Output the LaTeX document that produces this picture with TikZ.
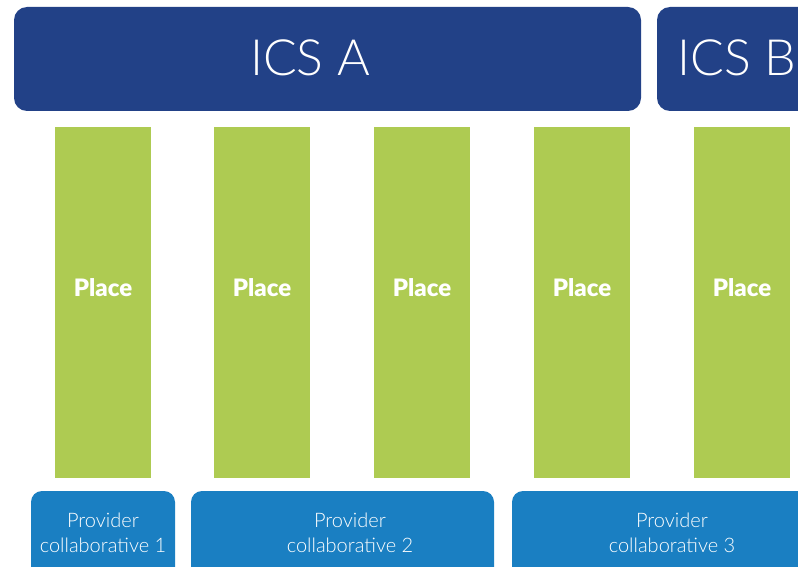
\documentclass[tikz,border=0pt]{standalone}
\usepackage{fontspec}
\setmainfont{Lato}
\newfontfamily\lightfont{Lato Light}
\newfontfamily\blackfont{Lato Black}
\usetikzlibrary{positioning}
\definecolor{icsblue}{HTML}{224187}
\definecolor{placegreen}{HTML}{AECB52}
\definecolor{pcblue}{HTML}{1A7FC2}
\tikzset{
  icsbox/.style={fill=icsblue, draw=none, rounded corners=13pt, inner sep=0pt, minimum height=104pt},
  icstext/.style={text=white, inner sep=0pt, font=\lightfont\fontsize{50}{50}\selectfont},
  placebox/.style={fill=placegreen, draw=none, inner sep=0pt, minimum width=96pt, minimum height=351pt},
  placetext/.style={text=white, inner sep=0pt, font=\blackfont\fontsize{24}{24}\selectfont},
  pcbox/.style={fill=pcblue, draw=none, rounded corners=11pt, inner sep=0pt, minimum height=100pt},
  pctext/.style={text=white, inner sep=0pt, align=center, font=\lightfont\fontsize{20}{25}\selectfont},
}
\newcommand{\placecol}[2]{\node[placebox] (#1) at (#2,302.5) {}; \node[placetext] (#1text) at ([yshift=14.5pt]#1.center) {Place};}

\begin{document}
\begin{tikzpicture}[x=1pt,y=-1pt]
        \useasboundingbox (0,0) rectangle (798,567);
        \clip (0,0) rectangle (798,567);
        % top
        \node[icsbox, minimum width=627pt] (icsA) at (327.5,59) {};
        \node[icstext] (icsAtext) at (310,58) {ICS A};
        \node[icsbox, minimum width=242pt] (icsB) at (778,59) {};
        \node[icstext, anchor=west] (icsBtext) at (677,58) {ICS B};
        % places
        \placecol{p1}{103}
        \placecol{p2}{262}
        \placecol{p3}{422}
        \placecol{p4}{582}
        \placecol{p5}{742}
        % bottom
        \node[pcbox, minimum width=144pt] (pc1) at (103,541) {};
        \node[pctext] (pc1text) at (103,533) {Provider\\collaborative 1};
        \node[pcbox, minimum width=303pt] (pc2) at (342.5,541) {};
        \node[pctext] (pc2text) at (350,533) {Provider\\collaborative 2};
        \node[pcbox, minimum width=318pt] (pc3) at (671,541) {};
        \node[pctext] (pc3text) at (672,533) {Provider\\collaborative 3};
    \end{tikzpicture}
\end{document}
